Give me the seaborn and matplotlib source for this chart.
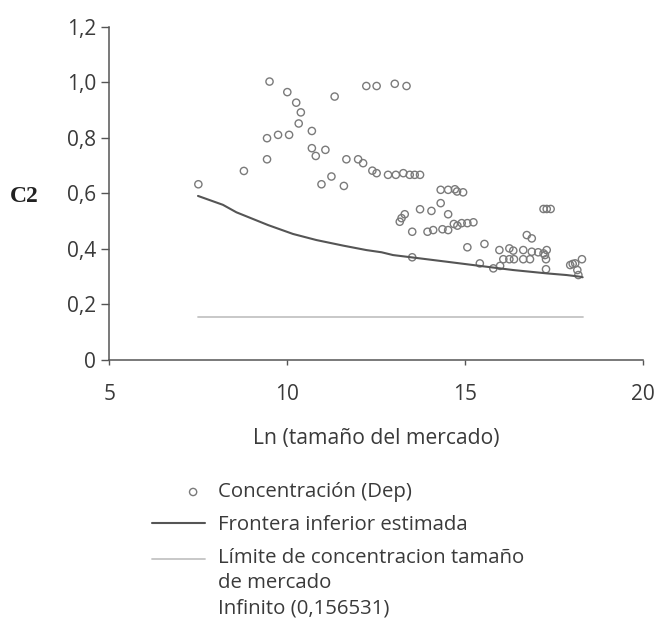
"""Concentración vs Ln(tamaño del mercado) with estimated lower frontier."""
import matplotlib.pyplot as plt
import numpy as np
import pandas as pd
import seaborn as sns
from matplotlib.legend_handler import HandlerLine2D, HandlerPathCollection

# Observed concentration points (Ln market size, C2)
ln_size = [
    7.50, 8.78, 9.43, 9.43, 9.50, 9.74, 10.00, 10.05, 10.25, 10.38,
    10.32, 10.69, 10.69, 10.80, 11.07, 10.96, 11.24, 11.33, 11.59, 11.66,
    11.99, 12.13, 12.22, 12.51, 12.39, 12.51, 12.83, 13.05, 13.02, 13.26,
    13.35, 13.44, 13.58, 13.73,
    14.31, 14.52, 14.71, 14.77, 14.94, 14.31, 13.73, 14.05, 14.52,
    13.16, 13.21, 13.30, 13.51, 13.94, 14.10, 14.36, 14.52,
    14.68, 14.78, 14.90, 15.06, 15.23, 15.06, 15.54, 13.51, 15.41,
    15.79, 15.98, 15.96, 16.24, 16.35, 16.63, 16.87, 17.05, 17.20,
    17.29, 16.07, 16.24, 16.37, 16.63, 16.82, 17.24, 17.27, 17.27,
    16.73, 16.87, 17.20, 17.29, 17.40, 17.95, 18.02, 18.09, 18.15,
    18.18, 18.28,
]
c2 = [
    0.633, 0.681, 0.799, 0.723, 1.003, 0.811, 0.965, 0.811, 0.927, 0.892,
    0.852, 0.825, 0.763, 0.735, 0.757, 0.633, 0.661, 0.949, 0.627, 0.723,
    0.723, 0.709, 0.987, 0.987, 0.682, 0.673, 0.667, 0.667, 0.995, 0.673,
    0.987, 0.667, 0.667, 0.667,
    0.613, 0.613, 0.615, 0.607, 0.604, 0.565, 0.543, 0.537, 0.525,
    0.498, 0.511, 0.525, 0.462, 0.462, 0.468, 0.471, 0.468,
    0.490, 0.484, 0.493, 0.493, 0.496, 0.406, 0.418, 0.370, 0.348,
    0.330, 0.339, 0.396, 0.402, 0.394, 0.396, 0.390, 0.388, 0.384,
    0.396, 0.363, 0.363, 0.363, 0.363, 0.363, 0.378, 0.363, 0.327,
    0.450, 0.438, 0.544, 0.544, 0.544, 0.342, 0.346, 0.348, 0.324,
    0.306, 0.363,
]

# Estimated lower frontier
frontier_x = [7.49, 8.19, 8.57, 9.46, 10.16, 10.82, 11.57, 12.22, 12.65,
              12.97, 13.54, 14.48, 15.41, 16.35, 17.29, 17.85, 18.23, 18.30]
frontier_y = [0.591, 0.559, 0.532, 0.486, 0.454, 0.432, 0.412, 0.396, 0.388,
              0.378, 0.369, 0.354, 0.339, 0.324, 0.312, 0.306, 0.300, 0.298]

# Concentration limit for infinite market size
limit_x = [7.5, 18.3]
limit_value = 0.156531

x_ticks = [5, 10, 15, 20]
y_ticks = [0, 0.2, 0.4, 0.6, 0.8, 1.0, 1.2]
y_tick_labels = ["0", "0,2", "0,4", "0,6", "0,8", "1,0", "1,2"]

TEXT_COLOR = "#3a3a3a"
LEGEND_SIZE = 14.7
LINE_SPACING = 1.37


class TopLineHandler(HandlerLine2D):
    """Put the legend line next to the first row of a multi-line label."""

    def create_artists(self, legend, orig_handle, xdescent, ydescent,
                       width, height, fontsize, trans):
        artists = super().create_artists(legend, orig_handle, xdescent,
                                         ydescent, width, height, fontsize,
                                         trans)
        shift = fontsize * LINE_SPACING * 0.87
        for artist in artists:
            artist.set_ydata(np.asarray(artist.get_ydata()) + shift)
        return artists


class RightMarkerHandler(HandlerPathCollection):
    """Draw the legend marker toward the right end of the handle box."""

    def get_xdata(self, legend, xdescent, ydescent, width, height, fontsize):
        xdata = np.array([-xdescent, -xdescent + width])
        return xdata, np.array([-xdescent + 0.78 * width])


sns.set_style("ticks")
plt.rcParams["font.family"] = ["Open Sans", "DejaVu Sans"]

points = pd.DataFrame({"x": ln_size, "y": c2})
frontier = pd.DataFrame({"x": frontier_x, "y": frontier_y})
limit = pd.DataFrame({"x": limit_x, "y": [limit_value] * len(limit_x)})

fig = plt.figure(figsize=(6.61, 6.18), dpi=100)
ax = fig.add_axes([0.1655, 0.4175, 0.8075, 0.539])

sns.lineplot(data=limit, x="x", y="y", ax=ax, color="#c4c4c4",
             linewidth=1.3,
             label="Límite de concentracion tamaño\nde mercado\nInfinito (0,156531)")
sns.lineplot(data=frontier, x="x", y="y", ax=ax, color="#555555",
             linewidth=1.5, label="Frontera inferior estimada")
sns.scatterplot(data=points, x="x", y="y", ax=ax, marker="o",
                facecolor="none", edgecolor="#7a7a7a", linewidth=1.0,
                s=27, label="Concentración (Dep)")

ax.set_xlim(5, 20)
ax.set_ylim(0, 1.2)
ax.set_xticks(x_ticks)
ax.set_yticks(y_ticks)
ax.set_yticklabels(y_tick_labels)
ax.tick_params(labelsize=15, labelcolor=TEXT_COLOR, width=1, color="#555555")
ax.tick_params(axis="y", length=5.5, pad=4)
ax.tick_params(axis="x", length=3.6, pad=14)
for side in ["left", "bottom"]:
    ax.spines[side].set_color("#555555")
    ax.spines[side].set_linewidth(1.1)
sns.despine(ax=ax)

ax.set_xlabel("Ln (tamaño del mercado)", fontsize=15.2, color=TEXT_COLOR,
              labelpad=16)
ax.set_ylabel("C2", fontsize=17, fontweight="bold", family="Liberation Serif",
              rotation=0, color="#222222", ha="center", va="center")
ax.yaxis.set_label_coords(-0.159, 0.492)

handles, labels = ax.get_legend_handles_labels()
order = [2, 1, 0]
legend = ax.legend([handles[i] for i in order], [labels[i] for i in order],
                   loc="upper left", bbox_to_anchor=(0.2295, 0.2195),
                   bbox_transform=fig.transFigure, frameon=False,
                   borderpad=0, borderaxespad=0,
                   fontsize=LEGEND_SIZE, handlelength=2.6,
                   handletextpad=0.67, labelspacing=0.62,
                   labelcolor=TEXT_COLOR,
                   handler_map={handles[0]: TopLineHandler(),
                                handles[2]: RightMarkerHandler()})
for text in legend.get_texts():
    text.set_linespacing(LINE_SPACING)

fig.savefig("out.png", dpi=100)
